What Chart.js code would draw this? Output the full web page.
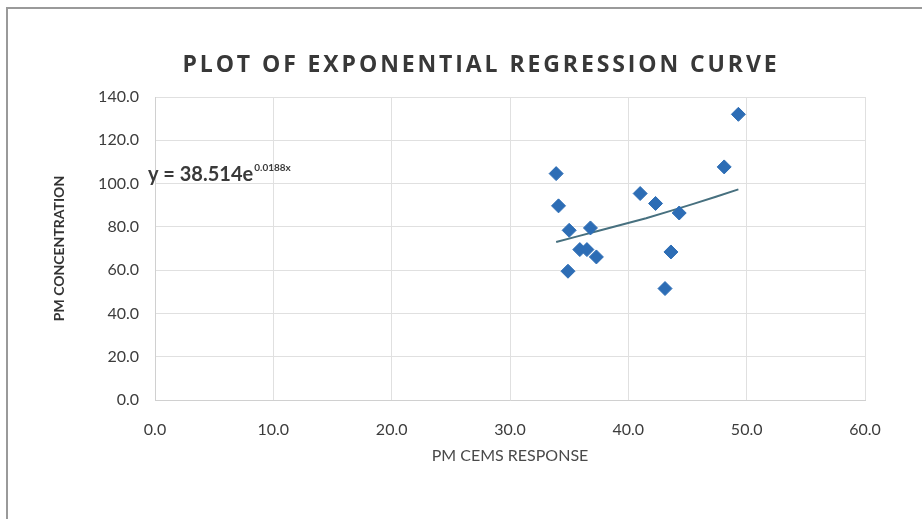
<!DOCTYPE html>
<html>
<head>
<meta charset="utf-8">
<script src="https://cdn.jsdelivr.net/npm/chart.js@4/dist/chart.umd.min.js"></script>
<style>
  html, body { margin: 0; padding: 0; background: #fff; }
  #wrap { position: relative; width: 922px; height: 519px; overflow: hidden; }
  #frame { position: absolute; left: 6px; top: 7px; width: 930px; height: 530px; border: 2px solid #9a9a9a; box-sizing: border-box; }
  #title { position: absolute; left: 20px; width: 922px; top: 47px; text-align: center;
           font-family: "Open Sans", sans-serif; font-weight: 700; font-size: 23px;
           letter-spacing: 2.9px; color: #383838; }
  canvas { position: absolute; left: 0; top: 0; }
</style>
</head>
<body>
<div id="wrap">
  <div id="frame"></div>
  <canvas id="regChart" width="922" height="519"></canvas>
  <div id="title">PLOT OF EXPONENTIAL REGRESSION CURVE</div>
</div>
<script>
// values
const cemsResponse = [33.9, 34.1, 35.0, 36.8, 34.9, 35.9, 36.5, 37.3, 41.0, 42.3, 44.3, 43.6, 43.1, 48.1, 49.3];
const pmConcentration = [104.6, 89.7, 78.4, 79.5, 59.5, 69.5, 69.5, 66.1, 95.4, 90.8, 86.4, 68.4, 51.5, 107.7, 132.0];

// trendline as drawn in the picture
const trendX = [33.9, 37.5, 41.5, 45.5, 49.3];
const trendY = [73.0, 78.2, 84.0, 90.6, 97.3];

const xTicks = [0, 10, 20, 30, 40, 50, 60];
const yTicks = [0, 20, 40, 60, 80, 100, 120, 140];

const eqMain = "y = 38.514e";
const eqExp = "0.0188x";

const points = cemsResponse.map((x, i) => ({ x: x, y: pmConcentration[i] }));
const trend = trendX.map((x, i) => ({ x: x, y: trendY[i] }));

// equation label, anchored in data units
const equationLabel = {
    id: "equationLabel",
    afterDatasetsDraw(chart) {
        const ctx = chart.ctx;
        const xs = chart.scales.x, ys = chart.scales.y;
        const px = xs.getPixelForValue(-0.6);
        const py = ys.getPixelForValue(101.3);
        ctx.save();
        ctx.fillStyle = "#3a3a3a";
        ctx.textBaseline = "alphabetic";
        ctx.font = "bold 20px Lato, sans-serif";
        ctx.fillText(eqMain, px, py);
        const w = ctx.measureText(eqMain).width;
        ctx.font = "bold 10px Lato, sans-serif";
        ctx.fillText(eqExp, px + w + 1, py - 10);
        ctx.restore();
    }
};

const ctx = document.getElementById("regChart").getContext("2d");

new Chart(ctx, {
    type: "scatter",
    data: {
        datasets: [{
            label: "PM",
            data: points,
            pointStyle: "rectRot",
            pointRadius: 7,
            backgroundColor: "#2d6db5",
            borderColor: "#2d6db5",
            order: 1
        }, {
            label: "Trend",
            type: "line",
            data: trend,
            showLine: true,
            tension: 0.1,
            pointRadius: 0,
            borderColor: "#47707f",
            borderWidth: 2,
            fill: false,
            order: 2
        }]
    },
    options: {
        responsive: false,
        animation: false,
        layout: { padding: { left: 47, top: 97, right: 57, bottom: 49 } },
        plugins: {
            legend: { display: false },
            tooltip: { enabled: false }
        },
        scales: {
            x: {
                type: "linear",
                min: 0,
                max: 60,
                afterBuildTicks: s => { s.ticks = xTicks.map(v => ({ value: v })); },
                afterFit: s => { s.height = 70; },
                ticks: {
                    padding: 20,
                    color: "#3c3c3c",
                    font: { family: "Lato", size: 16 },
                    callback: v => v.toFixed(1)
                },
                grid: { color: "#e0e0e0", drawTicks: false },
                border: { color: "#d0d0d0" },
                title: {
                    display: true,
                    text: "PM CEMS RESPONSE",
                    color: "#4a4a4a",
                    font: { family: "Lato", size: 16 },
                    padding: { top: 0, bottom: 5 }
                }
            },
            y: {
                type: "linear",
                min: 0,
                max: 140,
                afterBuildTicks: s => { s.ticks = yTicks.map(v => ({ value: v })); },
                afterFit: s => { s.width = 108; },
                ticks: {
                    padding: 16,
                    color: "#3c3c3c",
                    font: { family: "Lato", size: 16 },
                    callback: v => v.toFixed(1)
                },
                grid: { color: "#e0e0e0", drawTicks: false },
                border: { color: "#d0d0d0" },
                title: {
                    display: true,
                    text: "PM CONCENTRATION",
                    color: "#333",
                    font: { family: "Lato", size: 14, weight: "bold" },
                    padding: { top: 4, bottom: 0 }
                }
            }
        }
    },
    plugins: [equationLabel]
});
</script>
</body>
</html>
